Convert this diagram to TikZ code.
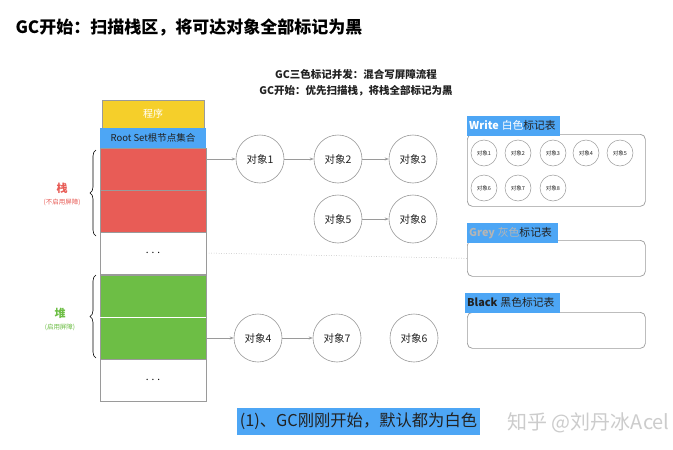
\documentclass[tikz,border=0pt]{standalone}
\usepackage{fontspec}
\setmainfont{Noto Sans CJK SC}
\usetikzlibrary{arrows.meta,decorations.pathreplacing}
\definecolor{stkred}{HTML}{E85C56}
\definecolor{stkgreen}{HTML}{6DBE45}
\definecolor{stkyellow}{HTML}{F5CF2A}
\definecolor{lblblue}{HTML}{4DA6F5}
\definecolor{edgegrey}{HTML}{9A9A9A}
\definecolor{txtdark}{HTML}{222222}
\definecolor{greytxt}{HTML}{B5B5B5}
\tikzset{
  cell/.style={draw=edgegrey, line width=0.6pt, minimum width=106pt, minimum height=42pt, inner sep=0pt},
  obj/.style={circle, draw=edgegrey, line width=0.6pt, minimum size=48pt, inner sep=0pt, font=\fontsize{10.5}{12}\selectfont, text=txtdark},
  sobj/.style={circle, draw=edgegrey, line width=0.5pt, minimum size=26pt, inner sep=0pt, font=\fontsize{5.5}{6}\selectfont, text=txtdark},
  conn/.style={draw=edgegrey, line width=0.6pt, -{Stealth[length=4pt,width=3pt]}},
  table/.style={draw=edgegrey, line width=0.7pt, rounded corners=5pt},
  lbl/.style={fill=lblblue, inner sep=0pt, minimum height=20pt, anchor=north west, text height=9pt, text depth=2pt, font=\fontsize{10.8}{12}\selectfont}
}
\begin{document}
\begin{tikzpicture}[x=1pt,y=-1pt]
\useasboundingbox[fill=white] (0,0) rectangle (673,450);
% title
\node[anchor=west, font=\fontsize{17}{20}\selectfont\bfseries, text=black] (title) at (12,27) {GC开始：扫描栈区，将可达对象全部标记为黑};
\node[font=\fontsize{10.5}{12}\selectfont\bfseries, text=txtdark] (sub1) at (356,75) {GC三色标记并发：混合写屏障流程};
\node[font=\fontsize{10.5}{12}\selectfont\bfseries, text=txtdark] (sub2) at (356,91) {GC开始：优先扫描栈，将栈全部标记为黑};
% stack column
\node[cell, fill=stkyellow, minimum width=102pt, minimum height=28pt, text=white, font=\fontsize{10}{12}\selectfont] (prog) at (153,114) {程序};
\node[fill=lblblue, minimum width=106pt, minimum height=20pt, inner sep=0pt, text=txtdark, font=\fontsize{9.5}{11}\selectfont] (root) at (153,138) {Root Set根节点集合};
\node[cell, fill=stkred] (r1) at (153,169) {};
\node[cell, fill=stkred] (r2) at (153,211) {};
\node[cell, fill=white, font=\fontsize{10}{12}\selectfont] (w1) at (153,253) {. . .};
\node[cell, fill=stkgreen] (g1) at (153,296) {};
\node[cell, fill=stkgreen] (g2) at (153,338) {};
\node[cell, fill=white, font=\fontsize{10}{12}\selectfont] (w2) at (153,380) {. . .};
\draw[white, line width=1.4pt] (g1.south west) -- (g1.south east);
% braces
\coordinate (b1t) at (96,150);
\coordinate (b1b) at (96,236);
\draw[line width=0.6pt, decorate, decoration={brace, amplitude=6pt}] (b1b) -- (b1t);
\node[text=stkred, font=\fontsize{11}{12}\selectfont\bfseries] (stk) at (62,188) {栈};
\node[text=stkred, font=\fontsize{6.5}{7}\selectfont] (stks) at (62,202) {(不启用屏障)};
\coordinate (b2t) at (96,275);
\coordinate (b2b) at (96,358);
\draw[line width=0.6pt, decorate, decoration={brace, amplitude=6pt}] (b2b) -- (b2t);
\node[text=stkgreen, font=\fontsize{11}{12}\selectfont\bfseries] (hp) at (60,313) {堆};
\node[text=stkgreen, font=\fontsize{6.5}{7}\selectfont] (hps) at (60,327) {(启用屏障)};
% objects
\node[obj] (o1) at (260,159) {对象1};
\node[obj] (o2) at (338,159) {对象2};
\node[obj] (o3) at (413,159) {对象3};
\node[obj] (o5) at (338,219) {对象5};
\node[obj] (o8) at (413,219) {对象8};
\node[obj] (o4) at (258,338) {对象4};
\node[obj] (o7) at (337,338) {对象7};
\node[obj] (o6) at (414,338) {对象6};
\draw[conn] (o1.west -| r1.east) -- (o1.west);
\draw[conn] (o1) -- (o2);
\draw[conn] (o2) -- (o3);
\draw[conn] (o5) -- (o8);
\draw[conn] (o4.west -| g2.east) -- (o4.west);
\draw[conn] (o4) -- (o7);
% tables
\node[table, minimum width=178pt, minimum height=72pt, anchor=north west] (wt) at (467,134) {};
\node[lbl, text width=93pt] (wl) at (467,116) {\hspace*{2pt}{\color{white}\textbf{Write}\hspace{3pt}白色}{\color{txtdark}标记表}};
\node[sobj] (s1) at (484,153) {对象1};
\node[sobj] (s2) at (518,153) {对象2};
\node[sobj] (s3) at (553,153) {对象3};
\node[sobj] (s4) at (586,153) {对象4};
\node[sobj] (s5) at (620,153) {对象5};
\node[sobj] (s6) at (484,188) {对象6};
\node[sobj] (s7) at (518,188) {对象7};
\node[sobj] (s8) at (553,188) {对象8};
\node[table, minimum width=178pt, minimum height=36pt, anchor=north west] (gt) at (467,240) {};
\node[lbl, text width=91pt] (gl) at (467,223) {\hspace*{2pt}{\color{greytxt}\textbf{Grey}\hspace{3pt}灰色}{\color{txtdark}标记表}};
\node[table, minimum width=178pt, minimum height=36pt, anchor=north west] (bt) at (467,312) {};
\node[lbl, text width=95pt] (bl) at (465,293) {\hspace*{2pt}{\color{txtdark}\textbf{Black}\hspace{3pt}黑色标记表}};
% dotted line
\draw[edgegrey, line width=0.5pt, dotted] (w1.east) -- (gt.west);
% caption
\node[fill=lblblue, minimum width=243pt, minimum height=27pt, inner sep=0pt, text=txtdark, font=\fontsize{16.3}{18}\selectfont] (cap) at (358.5,421.5) {(1)、GC刚刚开始，默认都为白色};
\node[anchor=west, text=gray!40, font=\fontsize{20}{22}\selectfont] (wm) at (504,423) {知乎 @刘丹冰Acel};
\end{tikzpicture}
\end{document}
